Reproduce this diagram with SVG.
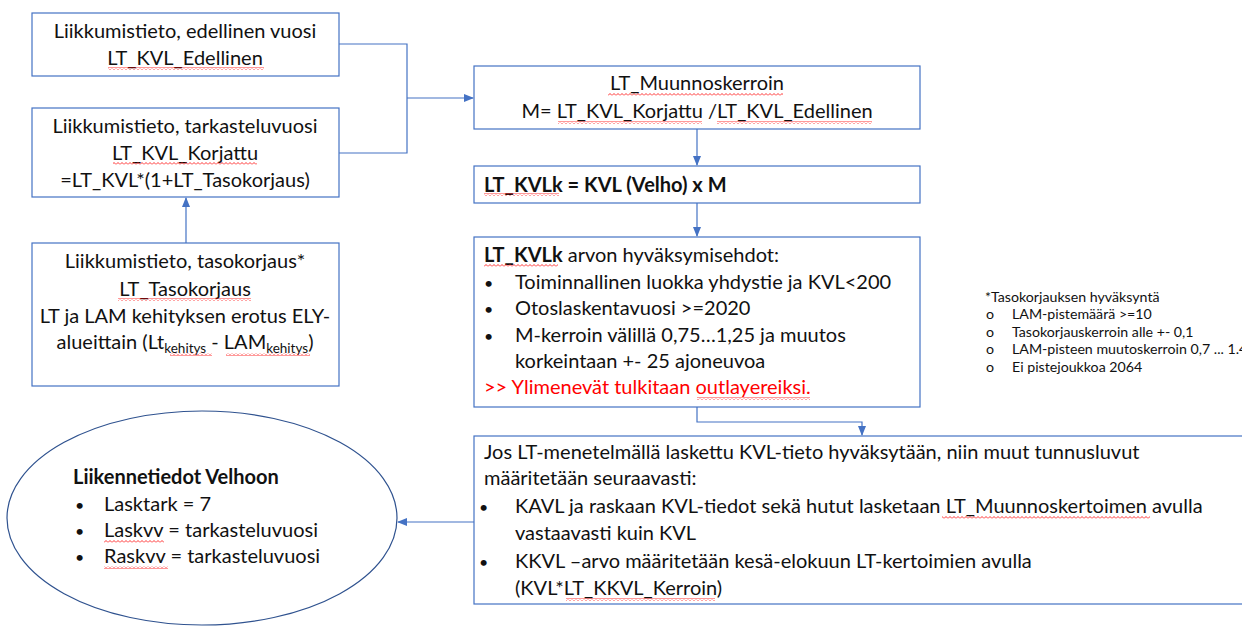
<svg xmlns="http://www.w3.org/2000/svg" width="1242" height="626" viewBox="0 0 1242 626">
<style>
.box{fill:#fff;stroke:#4472C4;stroke-width:1.2}
.ell{fill:#fff;stroke:#2F528F;stroke-width:1.2}
.con{fill:none;stroke:#4472C4;stroke-width:1.2}
text{font-family:Lato,"Open Sans",sans-serif;font-size:20px;fill:#111}
.c{text-anchor:middle}
.b{font-weight:bold}
.red{fill:#FF0000}
.sm{font-size:14.2px}
.sub{font-size:13.5px}
.bul{font-size:16px}
.wv{fill:url(#wave)}
</style>
<defs>
<marker id="ah" markerWidth="10" markerHeight="8" refX="9" refY="4" orient="auto" markerUnits="userSpaceOnUse">
<path d="M0,0 L10,4 L0,8 z" fill="#4472C4"/>
</marker>
<pattern id="wave" patternUnits="userSpaceOnUse" width="4" height="3">
<path d="M0,2.5 L2,0.5 L4,2.5" fill="none" stroke="#FF0000" stroke-width="0.8"/>
</pattern>
</defs>

<g id="connectors">
<path class="con" d="M339,44 H407 V153 H339"/>
<path class="con" d="M407,98 H473" marker-end="url(#ah)"/>
<path class="con" d="M186,243 V198" marker-end="url(#ah)"/>
<path class="con" d="M697,129 V165" marker-end="url(#ah)"/>
<path class="con" d="M697,203 V236" marker-end="url(#ah)"/>
<path class="con" d="M697,407 V422 H862 V435" marker-end="url(#ah)"/>
<path class="con" d="M474,522 H398" marker-end="url(#ah)"/>
</g>

<g id="node-edellinen">
<rect class="box" x="32" y="13" width="307" height="63"/>
<text class="c" x="185" y="38">Liikkumistieto, edellinen vuosi</text>
<text class="c" x="185" y="65">LT_KVL_Edellinen</text>
<rect class="wv" x="108" y="67" width="156" height="3"/>
</g>

<g id="node-korjattu">
<rect class="box" x="32" y="108" width="307" height="89"/>
<text class="c" x="185" y="133">Liikkumistieto, tarkasteluvuosi</text>
<text class="c" x="185" y="160">LT_KVL_Korjattu</text>
<rect class="wv" x="113" y="162" width="144" height="3"/>
<text class="c" x="185" y="187">=LT_KVL*(1+LT_Tasokorjaus)</text>
</g>

<g id="node-tasokorjaus">
<rect class="box" x="32" y="243" width="307" height="143"/>
<text class="c" x="185" y="268">Liikkumistieto, tasokorjaus*</text>
<text class="c" x="185" y="296">LT_Tasokorjaus</text>
<rect class="wv" x="118" y="298" width="133" height="3"/>
<text class="c" x="185" y="323">LT ja LAM kehityksen erotus ELY-</text>
<text class="c" x="185" y="349">alueittain (Lt<tspan class="sub" dy="4">kehitys</tspan><tspan dy="-4"> - LAM</tspan><tspan class="sub" dy="4">kehitys</tspan><tspan dy="-4">)</tspan></text>
<rect class="wv" x="170" y="353" width="42" height="3"/>
<rect class="wv" x="226" y="353" width="84" height="3"/>
</g>

<g id="node-muunnoskerroin">
<rect class="box" x="474" y="66" width="446" height="63"/>
<text class="c" x="697" y="90">LT_Muunnoskerroin</text>
<rect class="wv" x="608" y="93" width="175" height="3"/>
<text class="c" x="697" y="118">M= LT_KVL_Korjattu /LT_KVL_Edellinen</text>
<rect class="wv" x="558" y="121" width="144" height="3"/>
<rect class="wv" x="717" y="121" width="155" height="3"/>
</g>

<g id="node-kvlk">
<rect class="box" x="474" y="166" width="446" height="37"/>
<text class="b" x="484" y="192">LT_KVLk = KVL (Velho) x M</text>
<rect class="wv" x="484" y="193" width="75" height="3"/>
</g>

<g id="node-ehdot">
<rect class="box" x="474" y="237" width="446" height="170"/>
<text x="484" y="262"><tspan class="b">LT_KVLk</tspan> arvon hyväksymisehdot:</text>
<rect class="wv" x="484" y="264" width="74" height="3"/>
<text class="bul" x="484" y="289">•</text><text x="515" y="289">Toiminnallinen luokka yhdystie ja KVL&lt;200</text>
<text class="bul" x="484" y="315">•</text><text x="515" y="315">Otoslaskentavuosi &gt;=2020</text>
<text class="bul" x="484" y="342">•</text><text x="515" y="342">M-kerroin välillä 0,75…1,25 ja muutos</text>
<text x="515" y="368">korkeintaan +- 25 ajoneuvoa</text>
<text class="red" x="484" y="394">&gt;&gt; Ylimenevät tulkitaan outlayereiksi.</text>
<rect class="wv" x="697" y="397" width="113" height="3"/>
</g>

<g id="node-note">
<text class="sm" x="985" y="302">*Tasokorjauksen hyväksyntä</text>
<text class="sm" x="986" y="319">o</text><text class="sm" x="1012" y="319">LAM-pistemäärä &gt;=10</text>
<text class="sm" x="986" y="337">o</text><text class="sm" x="1012" y="337">Tasokorjauskerroin alle +- 0,1</text>
<text class="sm" x="986" y="354">o</text><text class="sm" x="1012" y="354">LAM-pisteen muutoskerroin 0,7 ... 1.4</text>
<text class="sm" x="986" y="372">o</text><text class="sm" x="1012" y="372">Ei pistejoukkoa 2064</text>
</g>

<g id="node-muut">
<rect class="box" x="474" y="436" width="800" height="168"/>
<text x="484" y="459">Jos LT-menetelmällä laskettu KVL-tieto hyväksytään, niin muut tunnusluvut</text>
<text x="484" y="485">määritetään seuraavasti:</text>
<text class="bul" x="479" y="513">•</text><text x="515" y="513">KAVL ja raskaan KVL-tiedot sekä hutut lasketaan LT_Muunnoskertoimen avulla</text>
<rect class="wv" x="942" y="516" width="208" height="3"/>
<text x="515" y="540">vastaavasti kuin KVL</text>
<text class="bul" x="479" y="568">•</text><text x="515" y="568">KKVL –arvo määritetään kesä-elokuun LT-kertoimien avulla</text>
<text x="515" y="595">(KVL*LT_KKVL_Kerroin)</text>
<rect class="wv" x="566" y="598" width="149" height="3"/>
</g>

<g id="node-velhoon">
<ellipse class="ell" cx="202" cy="518" rx="195" ry="107"/>
<text class="b" x="73" y="484">Liikennetiedot Velhoon</text>
<text class="bul" x="75" y="511">•</text><text x="104" y="511">Lasktark = 7</text>
<text class="bul" x="75" y="537">•</text><text x="104" y="537">Laskvv = tarkasteluvuosi</text>
<rect class="wv" x="104" y="540" width="60" height="3"/>
<text class="bul" x="75" y="563">•</text><text x="104" y="563">Raskvv = tarkasteluvuosi</text>
<rect class="wv" x="104" y="566" width="64" height="3"/>
</g>
</svg>
